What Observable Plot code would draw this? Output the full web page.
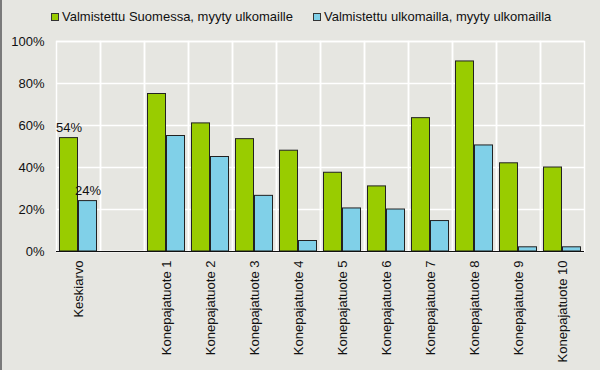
<!DOCTYPE html>
<html><head><meta charset="utf-8">
<script src="https://cdn.jsdelivr.net/npm/d3@7"></script>
<script src="https://cdn.jsdelivr.net/npm/@observablehq/plot@0.6"></script>
<style>
body{margin:0;background:#e6e6e1;font-family:"Liberation Sans",Arial,sans-serif;}
#wrap{position:relative;width:600px;height:370px;overflow:hidden;background:#e6e6e1;}
#edge{position:absolute;left:0;top:0;width:2px;height:370px;background:#7a7a7a;}
#legend{position:absolute;left:51px;top:9px;font-size:13px;color:#111;display:flex;gap:20px;line-height:16px;}
#legend .item{display:flex;align-items:center;}
#legend .sw{width:6px;height:6px;border:1px solid #333;margin-right:3px;}
#chart{position:absolute;left:0;top:0;}
</style></head>
<body>
<div id="wrap"><div id="chart"></div><div id="legend"></div><div id="edge"></div></div>
<script>
const categories = ["Keskiarvo", " ", "Konepajatuote 1", "Konepajatuote 2", "Konepajatuote 3", "Konepajatuote 4", "Konepajatuote 5", "Konepajatuote 6", "Konepajatuote 7", "Konepajatuote 8", "Konepajatuote 9", "Konepajatuote 10"];
const seriesNames = ["Valmistettu Suomessa, myyty ulkomaille", "Valmistettu ulkomailla, myyty ulkomailla"];
const domesticValues = [0.54, null, 0.75, 0.61, 0.535, 0.48, 0.375, 0.31, 0.635, 0.905, 0.42, 0.40];
const abroadValues = [0.24, null, 0.55, 0.45, 0.265, 0.05, 0.205, 0.20, 0.145, 0.505, 0.02, 0.02];
const labelledCategory = "Keskiarvo";
const yTicks = [0, 0.2, 0.4, 0.6, 0.8, 1];
const colors = ["#99cc00", "#80d0e8"];

const rows = [];
categories.forEach((c, i) => {
  rows.push({category: c, series: seriesNames[0], value: domesticValues[i]});
  rows.push({category: c, series: seriesNames[1], value: abroadValues[i]});
});

const chart = Plot.plot({
  width: 600, height: 370,
  marginLeft: 52.5, marginRight: 12, marginTop: 41, marginBottom: 119,
  style: {background: "transparent", fontFamily: "'Liberation Sans', Arial, sans-serif", fontSize: "13px", color: "#111"},
  facet: {data: rows, x: "category"},
  fx: {domain: categories, padding: 0, label: null, axis: "bottom", tickRotate: -90, tickSize: 0, tickPadding: 9},
  x: {domain: seriesNames, paddingInner: 0.07, paddingOuter: 0.18, axis: null},
  y: {domain: [0, 1], label: null, axis: null},
  color: {domain: seriesNames, range: colors},
  marks: [
    Plot.gridY(yTicks, {stroke: "white", strokeOpacity: 1, strokeWidth: 1.5}),
    Plot.frame({stroke: "white", strokeWidth: 1.5}),
    Plot.axisY(yTicks, {tickFormat: d3.format(".0%"), tickSize: 0, tickPadding: 12, label: null, facetAnchor: "left", fill: "#111"}),
    Plot.barY(rows, {fx: "category", x: "series", y: "value", fill: "series", stroke: "#222", strokeWidth: 1}),
    Plot.text(rows.filter(d => d.category === labelledCategory), {fx: "category", x: "series", y: "value", text: d => d3.format(".0%")(d.value), lineAnchor: "bottom", dy: -6, fill: "#111"}),
    Plot.ruleY([0], {stroke: "#111", strokeWidth: 1.2})
  ]
});
document.getElementById("chart").appendChild(chart);

const legend = document.getElementById("legend");
seriesNames.forEach((s, i) => {
  const it = document.createElement("div"); it.className = "item";
  const sw = document.createElement("span"); sw.className = "sw"; sw.style.background = colors[i];
  const t = document.createElement("span"); t.textContent = s;
  it.appendChild(sw); it.appendChild(t); legend.appendChild(it);
});
</script>
</body></html>
